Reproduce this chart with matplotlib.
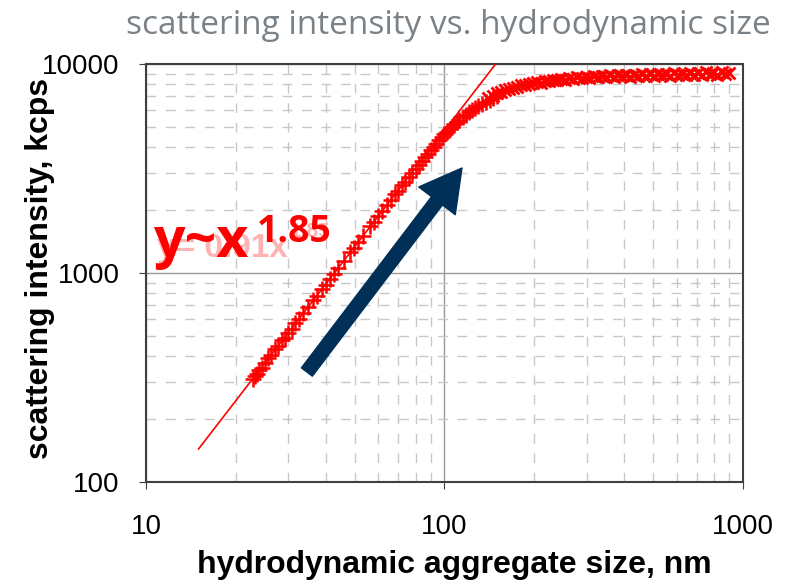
import numpy as np
import matplotlib.pyplot as plt
from matplotlib.ticker import LogLocator, NullFormatter

# --- data ---
# rising part, '+' markers
plus_x = [22.8, 23.2, 23.6, 24.0, 24.5, 25.0, 25.6, 26.3, 27.1, 27.8, 28.6, 29.2,
          29.9, 30.8, 31.6, 32.6, 33.6, 35.0, 36.3, 37.5, 38.9, 40.0, 41.3, 42.6,
          44.0, 46.0, 48.2, 49.8, 51.3, 53.5, 56.2, 58.0, 59.8, 62.0, 64.1, 66.0,
          68.2, 70.0, 72.0, 74.0, 76.0, 78.0, 80.0, 82.0, 84.0, 86.0, 88.0, 90.0,
          92.0, 94.0, 96.0, 98.0, 100.0, 102.0, 104.0, 106.0, 108.0, 110.0, 112.0,
          115.0, 118.0, 121.0, 124.0, 127.0, 130.0, 134.0, 138.0, 142.0, 146.0, 150.0]
plus_y = [312, 322, 330, 344, 352, 370, 390, 405, 432, 448, 478, 490,
          518, 540, 575, 600, 645, 685, 742, 780, 842, 880, 940, 990,
          1060, 1140, 1255, 1320, 1410, 1510, 1670, 1750, 1870, 1980, 2120, 2230,
          2380, 2480, 2630, 2740, 2890, 3020, 3150, 3290, 3430, 3580, 3720, 3870,
          4010, 4160, 4310, 4460, 4600, 4740, 4880, 5010, 5140, 5270, 5390,
          5560, 5720, 5870, 6010, 6150, 6280, 6440, 6590, 6730, 6860, 7000]

# plateau, 'x' markers
cross_x = [140, 145, 150, 155, 160, 165, 170, 175, 180, 186, 192, 198, 204, 210,
           217, 224, 231, 238, 246, 254, 262, 270, 279, 288, 297, 306, 316, 326,
           336, 347, 358, 369, 381, 393, 405, 418, 431, 445, 459, 473, 488, 503,
           519, 535, 552, 569, 587, 605, 624, 643, 663, 684, 705, 727, 750, 773,
           797, 822, 848, 874, 900]
cross_y = [6850, 7050, 7250, 7350, 7500, 7600, 7700, 7800, 7900, 7950, 8050, 8100,
           8200, 8150, 8300, 8250, 8400, 8350, 8500, 8400, 8600, 8500, 8650, 8550,
           8700, 8600, 8750, 8650, 8800, 8650, 8850, 8700, 8850, 8750, 8900, 8700,
           8900, 8800, 8950, 8750, 8950, 8800, 9000, 8850, 9000, 8800, 9050, 8850,
           9000, 8900, 9100, 8850, 9050, 8900, 9150, 8950, 9100, 8900, 9200, 8950, 9100]

# power-law trendline y = a * x^b
fit_a = 0.96
fit_b = 1.85
fit_x = np.array([15, 165])

fig = plt.figure(figsize=(7.92, 5.85), dpi=100)
ax = fig.add_axes([0.1843, 0.176, 0.7537, 0.7146])

ax.set_xscale('log')
ax.set_yscale('log')
ax.set_xlim(10, 1000)
ax.set_ylim(100, 10000)

# grid: solid majors, dashed minors
ax.xaxis.set_minor_locator(LogLocator(base=10, subs=np.arange(2, 10)))
ax.yaxis.set_minor_locator(LogLocator(base=10, subs=np.arange(2, 10)))
ax.xaxis.set_minor_formatter(NullFormatter())
ax.yaxis.set_minor_formatter(NullFormatter())
ax.grid(which='major', color='#999999', linewidth=1.0, linestyle='-')
ax.grid(which='minor', color='#c8c8c8', linewidth=1.0, linestyle=(0, (7, 7)))
ax.set_axisbelow(True)

ax.tick_params(which='minor', length=0)
ax.tick_params(which='major', direction='out', length=5, color='#404040',
               labelsize=20, pad=14)
ax.tick_params(axis='x', pad=18)
ax.set_xticks([10, 100, 1000])
ax.set_xticklabels(['10', '100', '1000'], family='Liberation Sans')
ax.set_yticks([100, 1000, 10000])
ax.set_yticklabels(['100', '1000', '10000'], family='Liberation Sans')
for s in ax.spines.values():
    s.set_color('#404040')
    s.set_linewidth(1.5)

# trendline
ax.plot(fit_x, fit_a * fit_x ** fit_b, color='red', linewidth=1.2, zorder=3)

# data
ax.plot(plus_x, plus_y, linestyle='none', marker='+', markersize=12,
        markeredgewidth=1.8, color='red', zorder=4)
ax.plot(cross_x, cross_y, linestyle='none', marker='x', markersize=9,
        markeredgewidth=2, color='red', zorder=4)

# faded trendline label, then the bold one on top
ax.text(0.018, 0.538, 'y= 0.91x', transform=ax.transAxes, color='#ffb3b3',
        fontsize=24, fontweight='bold', family='Liberation Sans', zorder=5)
ax.text(0.24, 0.585, '1.85', transform=ax.transAxes, color='#ffb3b3',
        fontsize=15, fontweight='bold', family='Liberation Sans', zorder=5)
ax.text(0.012, 0.538, 'y~x', transform=ax.transAxes, color='red',
        fontsize=40, fontweight='bold', family='Open Sans', zorder=6)
ax.text(0.185, 0.574, '1.85', transform=ax.transAxes, color='red',
        fontsize=27, fontweight='bold', family='Open Sans', zorder=6)

# arrow
ax.annotate('', xy=(114.5, 3180), xytext=(34.6, 336),
            arrowprops=dict(arrowstyle='simple,head_width=3.0,head_length=2.7,tail_width=0.9',
                            mutation_scale=11, color='#003057', shrinkA=0, shrinkB=0),
            zorder=6)

fig.text(454 / 792, 1 - 565 / 585, 'hydrodynamic aggregate size, nm', ha='center',
         va='center', fontsize=23, fontweight='bold', family='Liberation Sans')
fig.text(40 / 792, 1 - 268 / 585, 'scattering intensity, kcps', ha='center',
         va='center', rotation=90, fontsize=23, fontweight='bold',
         family='Liberation Sans')
fig.text(448 / 792, 1 - 25 / 585, 'scattering intensity vs. hydrodynamic size',
         ha='center', va='center', fontsize=24, color='#7a8288', family='Open Sans')

fig.savefig('out.png', dpi=100)
